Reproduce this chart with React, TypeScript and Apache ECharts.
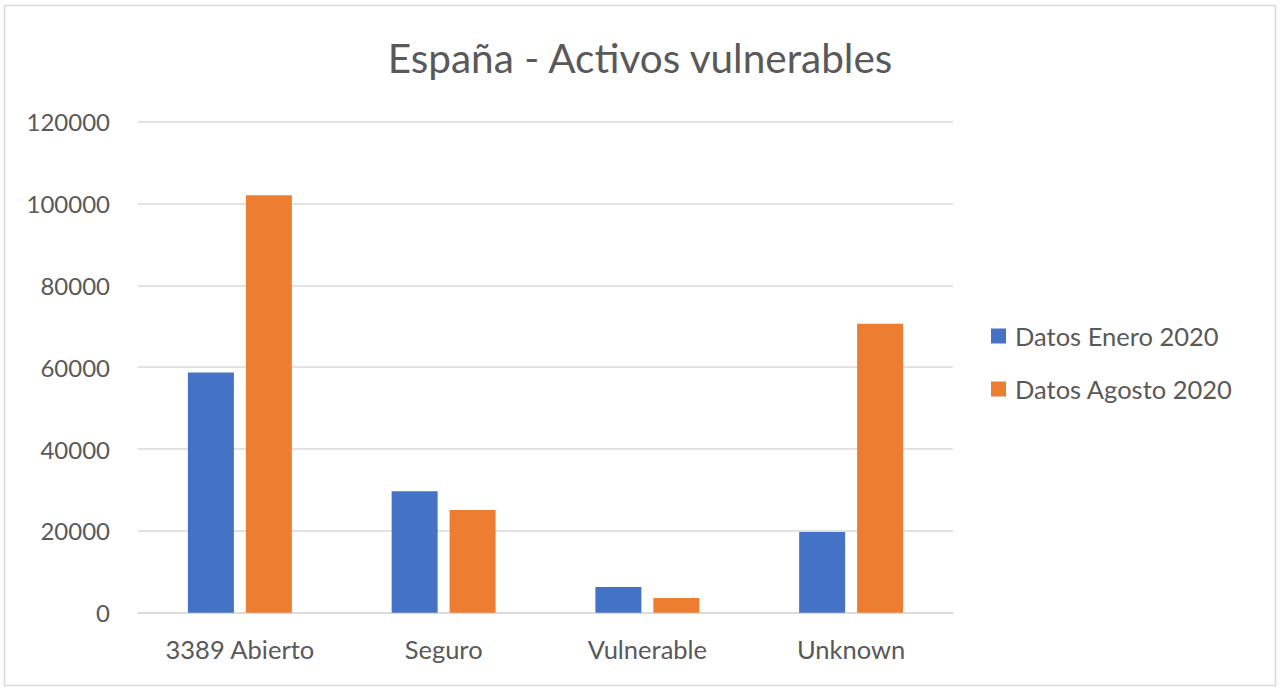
import React, { useEffect, useRef } from "react";
import * as echarts from "echarts";

const categories = ["3389 Abierto", "Seguro", "Vulnerable", "Unknown"];
const seriesNames = ["Datos Enero 2020", "Datos Agosto 2020"];
const eneroValues = [58700, 29700, 6300, 19700];
const agostoValues = [102000, 25100, 3600, 70600];
const colors = ["#4472C4", "#ED7D31"];
const FONT = "Lato";

export default function App() {
  const ref = useRef<HTMLDivElement>(null);
  useEffect(() => {
    document.body.style.margin = "0";
    if (!ref.current) return;
    const chart = echarts.init(ref.current, undefined, { renderer: "svg" });
    chart.setOption({
      animation: false,
      backgroundColor: "#ffffff",
      color: colors,
      textStyle: { fontFamily: FONT },
      title: {
        text: "España - Activos vulnerables",
        left: "center",
        top: 32,
        textStyle: { fontFamily: FONT, fontSize: 40.5, fontWeight: "normal", color: "#595959" },
      },
      graphic: [
        {
          type: "rect",
          shape: { x: 4.5, y: 5.5, width: 1271, height: 680 },
          style: { fill: "none", stroke: "#d9d9d9", lineWidth: 1.5 },
          silent: true,
        },
      ],
      legend: {
        orient: "vertical",
        left: 986,
        top: 318,
        itemWidth: 15,
        itemHeight: 15,
        itemGap: 27,
        icon: "rect",
        textStyle: { fontFamily: FONT, fontSize: 25.5, color: "#595959", padding: [0, 0, 0, 4] },
        data: seriesNames,
      },
      grid: { left: 138, right: 327, top: 121.7, bottom: 78.3, containLabel: false },
      xAxis: {
        type: "category",
        data: categories,
        axisLine: { lineStyle: { color: "#d9d9d9", width: 1.5 } },
        axisTick: { show: false },
        axisLabel: { fontFamily: FONT, fontSize: 25.5, color: "#595959", margin: 23 },
      },
      yAxis: {
        type: "value",
        min: 0,
        max: 120000,
        interval: 20000,
        axisLine: { show: false },
        axisTick: { show: false },
        splitLine: { lineStyle: { color: "#d9d9d9", width: 1.5 } },
        axisLabel: {
          fontFamily: FONT,
          fontSize: 24,
          color: "#595959",
          margin: 28,
          formatter: (v: number) => String(v),
        },
      },
      series: [
        { name: seriesNames[0], type: "bar", data: eneroValues, barWidth: 46, barGap: "26%" },
        { name: seriesNames[1], type: "bar", data: agostoValues, barWidth: 46, barGap: "26%" },
      ],
    });
    return () => chart.dispose();
  }, []);
  return <div ref={ref} style={{ width: 1280, height: 691 }} />;
}
